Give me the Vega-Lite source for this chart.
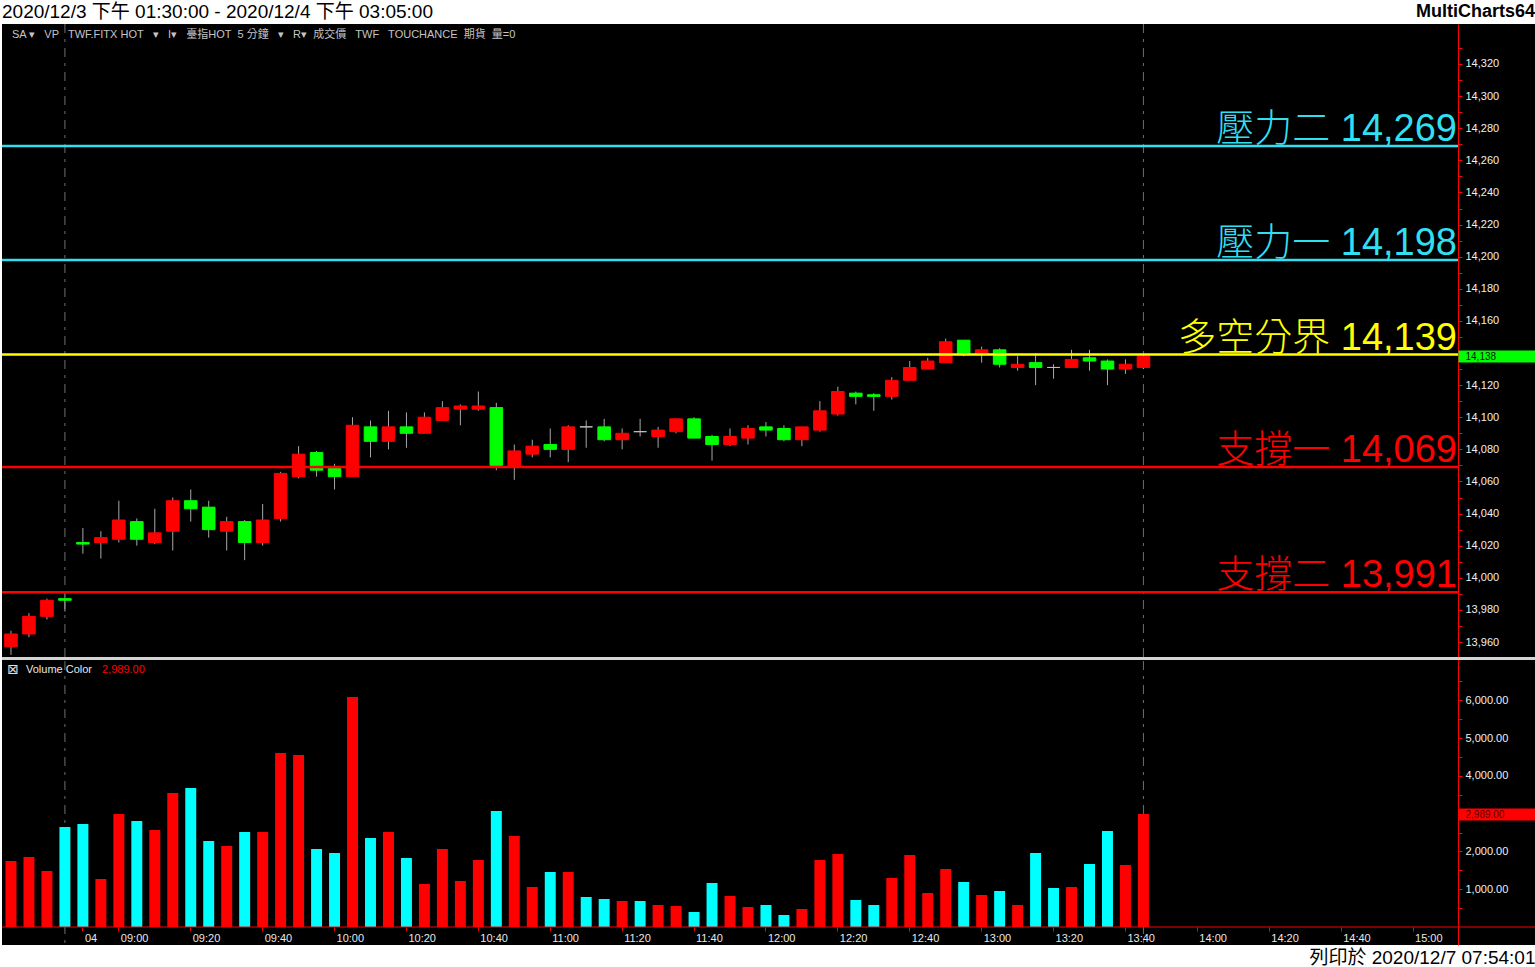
{
  "$schema": "https://vega.github.io/schema/vega-lite/v6.json",
  "padding": 0,
  "background": "#ffffff",
  "spacing": 0,
  "bounds": "flush",
  "config": {"view": {"stroke": null}},
  "datasets": {
    "bars": [
      {"t": "12/03 13:35", "o": 13957, "h": 13967, "l": 13952, "c": 13965, "v": 1746},
      {"t": "12/03 13:40", "o": 13965, "h": 13978, "l": 13963, "c": 13976, "v": 1852},
      {"t": "12/03 13:45", "o": 13976, "h": 13987, "l": 13974, "c": 13986, "v": 1481},
      {"t": "12/04 08:45", "o": 13987, "h": 13990, "l": 13979, "c": 13986, "v": 2646},
      {"t": "12/04 08:50", "o": 14022, "h": 14031, "l": 14015, "c": 14021, "v": 2725},
      {"t": "12/04 08:55", "o": 14022, "h": 14029, "l": 14012, "c": 14025, "v": 1270},
      {"t": "12/04 09:00", "o": 14024, "h": 14048, "l": 14022, "c": 14036, "v": 2990},
      {"t": "12/04 09:05", "o": 14035, "h": 14037, "l": 14020, "c": 14024, "v": 2804},
      {"t": "12/04 09:10", "o": 14022, "h": 14043, "l": 14021, "c": 14028, "v": 2566},
      {"t": "12/04 09:15", "o": 14029, "h": 14050, "l": 14017, "c": 14048, "v": 3545},
      {"t": "12/04 09:20", "o": 14048, "h": 14055, "l": 14035, "c": 14043, "v": 3677},
      {"t": "12/04 09:25", "o": 14044, "h": 14048, "l": 14025, "c": 14030, "v": 2275},
      {"t": "12/04 09:30", "o": 14029, "h": 14038, "l": 14017, "c": 14035, "v": 2143},
      {"t": "12/04 09:35", "o": 14035, "h": 14036, "l": 14011, "c": 14022, "v": 2513},
      {"t": "12/04 09:40", "o": 14022, "h": 14046, "l": 14020, "c": 14036, "v": 2513},
      {"t": "12/04 09:45", "o": 14037, "h": 14066, "l": 14035, "c": 14065, "v": 4603},
      {"t": "12/04 09:50", "o": 14063, "h": 14082, "l": 14062, "c": 14077, "v": 4550},
      {"t": "12/04 09:55", "o": 14078, "h": 14079, "l": 14063, "c": 14067, "v": 2063},
      {"t": "12/04 10:00", "o": 14068, "h": 14071, "l": 14055, "c": 14063, "v": 1958},
      {"t": "12/04 10:05", "o": 14063, "h": 14100, "l": 14063, "c": 14095, "v": 6085},
      {"t": "12/04 10:10", "o": 14094, "h": 14098, "l": 14075, "c": 14085, "v": 2354},
      {"t": "12/04 10:15", "o": 14085, "h": 14104, "l": 14080, "c": 14094, "v": 2513},
      {"t": "12/04 10:20", "o": 14094, "h": 14103, "l": 14081, "c": 14090, "v": 1825},
      {"t": "12/04 10:25", "o": 14090, "h": 14103, "l": 14090, "c": 14100, "v": 1138},
      {"t": "12/04 10:30", "o": 14098, "h": 14110, "l": 14098, "c": 14106, "v": 2063},
      {"t": "12/04 10:35", "o": 14105, "h": 14108, "l": 14095, "c": 14107, "v": 1217},
      {"t": "12/04 10:40", "o": 14105, "h": 14116, "l": 14104, "c": 14107, "v": 1772},
      {"t": "12/04 10:45", "o": 14106, "h": 14109, "l": 14067, "c": 14070, "v": 3069},
      {"t": "12/04 10:50", "o": 14069, "h": 14083, "l": 14061, "c": 14079, "v": 2407},
      {"t": "12/04 10:55", "o": 14077, "h": 14086, "l": 14075, "c": 14082, "v": 1058},
      {"t": "12/04 11:00", "o": 14083, "h": 14093, "l": 14075, "c": 14080, "v": 1455},
      {"t": "12/04 11:05", "o": 14080, "h": 14095, "l": 14072, "c": 14094, "v": 1455},
      {"t": "12/04 11:10", "o": 14094, "h": 14098, "l": 14081, "c": 14094, "v": 794},
      {"t": "12/04 11:15", "o": 14094, "h": 14099, "l": 14085, "c": 14086, "v": 741},
      {"t": "12/04 11:20", "o": 14086, "h": 14093, "l": 14080, "c": 14090, "v": 688},
      {"t": "12/04 11:25", "o": 14091, "h": 14099, "l": 14088, "c": 14091, "v": 688},
      {"t": "12/04 11:30", "o": 14088, "h": 14094, "l": 14081, "c": 14092, "v": 582},
      {"t": "12/04 11:35", "o": 14091, "h": 14099, "l": 14090, "c": 14099, "v": 556},
      {"t": "12/04 11:40", "o": 14099, "h": 14100, "l": 14087, "c": 14087, "v": 397},
      {"t": "12/04 11:45", "o": 14088, "h": 14089, "l": 14073, "c": 14083, "v": 1164},
      {"t": "12/04 11:50", "o": 14083, "h": 14093, "l": 14082, "c": 14088, "v": 820},
      {"t": "12/04 11:55", "o": 14087, "h": 14095, "l": 14083, "c": 14093, "v": 529},
      {"t": "12/04 12:00", "o": 14094, "h": 14097, "l": 14088, "c": 14092, "v": 582},
      {"t": "12/04 12:05", "o": 14093, "h": 14095, "l": 14085, "c": 14086, "v": 317},
      {"t": "12/04 12:10", "o": 14086, "h": 14094, "l": 14082, "c": 14094, "v": 476},
      {"t": "12/04 12:15", "o": 14092, "h": 14110, "l": 14091, "c": 14104, "v": 1772},
      {"t": "12/04 12:20", "o": 14102, "h": 14119, "l": 14101, "c": 14116, "v": 1931},
      {"t": "12/04 12:25", "o": 14115, "h": 14116, "l": 14108, "c": 14113, "v": 714},
      {"t": "12/04 12:30", "o": 14114, "h": 14115, "l": 14104, "c": 14113, "v": 582},
      {"t": "12/04 12:35", "o": 14113, "h": 14125, "l": 14111, "c": 14123, "v": 1296},
      {"t": "12/04 12:40", "o": 14123, "h": 14135, "l": 14123, "c": 14131, "v": 1905},
      {"t": "12/04 12:45", "o": 14130, "h": 14137, "l": 14130, "c": 14135, "v": 899},
      {"t": "12/04 12:50", "o": 14134, "h": 14149, "l": 14134, "c": 14147, "v": 1534},
      {"t": "12/04 12:55", "o": 14148, "h": 14148, "l": 14138, "c": 14139, "v": 1190},
      {"t": "12/04 13:00", "o": 14139, "h": 14144, "l": 14134, "c": 14142, "v": 847},
      {"t": "12/04 13:05", "o": 14142, "h": 14143, "l": 14131, "c": 14133, "v": 952},
      {"t": "12/04 13:10", "o": 14131, "h": 14138, "l": 14129, "c": 14133, "v": 582},
      {"t": "12/04 13:15", "o": 14134, "h": 14140, "l": 14120, "c": 14131, "v": 1958},
      {"t": "12/04 13:20", "o": 14131, "h": 14133, "l": 14124, "c": 14131, "v": 1032},
      {"t": "12/04 13:25", "o": 14131, "h": 14142, "l": 14131, "c": 14136, "v": 1058},
      {"t": "12/04 13:30", "o": 14137, "h": 14142, "l": 14129, "c": 14135, "v": 1667},
      {"t": "12/04 13:35", "o": 14135, "h": 14136, "l": 14120, "c": 14130, "v": 2540},
      {"t": "12/04 13:40", "o": 14130, "h": 14136, "l": 14127, "c": 14133, "v": 1640},
      {"t": "12/04 13:45", "o": 14131, "h": 14139, "l": 14130, "c": 14138, "v": 2989}
    ],
    "levels": [
      {"name": "壓力二", "value": 14269},
      {"name": "壓力一", "value": 14198},
      {"name": "多空分界", "value": 14139},
      {"name": "支撐一", "value": 14069},
      {"name": "支撐二", "value": 13991}
    ],
    "sessions": [
      {"t": "12/04 08:45"},
      {"t": "12/04 13:45"}
    ]
  },
  "vconcat": [
    {
      "width": 1535,
      "height": 24,
      "data": {"values": [{}]},
      "layer": [
        {
          "mark": {"type": "text", "align": "left", "baseline": "middle", "font": "Liberation Sans, Noto Sans CJK TC", "fontSize": 19, "color": "#000000"},
          "encoding": {
            "x": {"datum": 0, "type": "quantitative", "scale": {"domain": [0, 1]}, "axis": null},
            "y": {"datum": 0.5, "type": "quantitative", "scale": {"domain": [0, 1]}, "axis": null},
            "text": {"value": "2020/12/3 下午 01:30:00 - 2020/12/4 下午 03:05:00"}
          }
        },
        {
          "mark": {"type": "text", "align": "right", "baseline": "middle", "dx": -2, "font": "Liberation Sans", "fontSize": 18, "fontWeight": "bold", "color": "#000000"},
          "encoding": {
            "x": {"datum": 1, "type": "quantitative", "axis": null},
            "y": {"datum": 0.5, "type": "quantitative", "axis": null},
            "text": {"value": "MultiCharts64"}
          }
        }
      ]
    },
    {
      "width": 1535,
      "height": 637,
      "view": {"fill": "#000000", "stroke": null},
      "resolve": {"axis": {"x": "independent", "y": "independent"}},
      "layer": [
        {
          "data": {"name": "sessions"},
          "mark": {"type": "rule", "color": "#6e6e6e", "strokeWidth": 1, "strokeDash": [9, 6, 3, 6]},
          "encoding": {
            "x": {"field": "t", "type": "ordinal", "axis": null,
              "scale": {"range": [0, 1456], "paddingInner": 0, "paddingOuter": 0,
                "domain": ["12/03 13:35","12/03 13:40","12/03 13:45","12/04 08:45","12/04 08:50","12/04 08:55","12/04 09:00","12/04 09:05","12/04 09:10","12/04 09:15","12/04 09:20","12/04 09:25","12/04 09:30","12/04 09:35","12/04 09:40","12/04 09:45","12/04 09:50","12/04 09:55","12/04 10:00","12/04 10:05","12/04 10:10","12/04 10:15","12/04 10:20","12/04 10:25","12/04 10:30","12/04 10:35","12/04 10:40","12/04 10:45","12/04 10:50","12/04 10:55","12/04 11:00","12/04 11:05","12/04 11:10","12/04 11:15","12/04 11:20","12/04 11:25","12/04 11:30","12/04 11:35","12/04 11:40","12/04 11:45","12/04 11:50","12/04 11:55","12/04 12:00","12/04 12:05","12/04 12:10","12/04 12:15","12/04 12:20","12/04 12:25","12/04 12:30","12/04 12:35","12/04 12:40","12/04 12:45","12/04 12:50","12/04 12:55","12/04 13:00","12/04 13:05","12/04 13:10","12/04 13:15","12/04 13:20","12/04 13:25","12/04 13:30","12/04 13:35","12/04 13:40","12/04 13:45","12/04 13:50","12/04 13:55","12/04 14:00","12/04 14:05","12/04 14:10","12/04 14:15","12/04 14:20","12/04 14:25","12/04 14:30","12/04 14:35","12/04 14:40","12/04 14:45","12/04 14:50","12/04 14:55","12/04 15:00","12/04 15:05","12/04 15:10"]}}
          }
        },
        {
          "data": {"name": "bars"},
          "mark": {"type": "rule", "color": "#a8a8a8", "strokeWidth": 1},
          "encoding": {
            "x": {"field": "t", "type": "ordinal", "axis": null},
            "y": {"field": "l", "type": "quantitative",
              "scale": {"domain": [13948.18, 14344.91], "nice": false, "zero": false},
              "axis": {"orient": "right", "offset": -79, "title": null, "grid": false,
                "values": [13960,13970,13980,13990,14000,14010,14020,14030,14040,14050,14060,14070,14080,14090,14100,14110,14120,14130,14140,14150,14160,14170,14180,14190,14200,14210,14220,14230,14240,14250,14260,14270,14280,14290,14300,14310,14320,14330],
                "labelExpr": "datum.value % 20 == 0 && datum.value != 14140 ? format(datum.value, ',') : ''",
                "domainColor": "#ff0000", "domainWidth": 1, "tickColor": "#ff0000", "tickSize": 4,
                "labelColor": "#f0f0f0", "labelFont": "Liberation Sans", "labelFontSize": 11, "labelPadding": 3,
                "labelOverlap": false, "labelFlush": false}},
            "y2": {"field": "h"}
          }
        },
        {
          "data": {"name": "bars"},
          "mark": {"type": "bar", "width": {"band": 0.7}, "strokeWidth": 1},
          "encoding": {
            "x": {"field": "t", "type": "ordinal", "axis": null},
            "y": {"field": "o", "type": "quantitative", "axis": null},
            "y2": {"field": "c"},
            "fill": {"condition": [{"test": "datum.c > datum.o", "value": "#ff0000"}, {"test": "datum.c < datum.o", "value": "#00ff00"}], "value": "#c0c0c0"},
            "stroke": {"condition": [{"test": "datum.c > datum.o", "value": "#ff0000"}, {"test": "datum.c < datum.o", "value": "#00ff00"}], "value": "#c0c0c0"}
          }
        },
        {
          "data": {"name": "levels"},
          "mark": {"type": "rule", "strokeWidth": 2.5},
          "encoding": {
            "x": {"datum": "12/03 13:35", "type": "ordinal", "bandPosition": 0, "axis": null},
            "x2": {"datum": "12/04 15:10", "bandPosition": 1},
            "y": {"field": "value", "type": "quantitative", "axis": null},
            "color": {"field": "name", "type": "nominal", "legend": null,
              "scale": {"domain": ["壓力二", "壓力一", "多空分界", "支撐一", "支撐二"], "range": ["#30dff0", "#30dff0", "#ffff00", "#ff0000", "#ff0000"]}}
          }
        },
        {
          "data": {"name": "levels"},
          "transform": [{"calculate": "datum.name + ' ' + format(datum.value, ',')", "as": "label"}],
          "mark": {"type": "text", "align": "right", "baseline": "alphabetic", "dy": -5, "dx": -1, "fontSize": 38, "fontWeight": 300, "font": "Liberation Sans, Noto Sans CJK TC"},
          "encoding": {
            "x": {"datum": "12/04 15:10", "type": "ordinal", "bandPosition": 1, "axis": null},
            "y": {"field": "value", "type": "quantitative", "axis": null},
            "text": {"field": "label"},
            "color": {"field": "name", "type": "nominal", "legend": null}
          }
        },
        {
          "data": {"values": [{}]},
          "mark": {"type": "text", "align": "left", "baseline": "middle", "dx": 10, "fontSize": 11, "font": "Liberation Sans, Noto Sans CJK TC", "color": "#c4c4c4"},
          "encoding": {
            "x": {"datum": "12/03 13:35", "type": "ordinal", "bandPosition": 0, "axis": null},
            "y": {"datum": 14338, "type": "quantitative", "axis": null},
            "text": {"value": "SA ▾\u00a0\u00a0 VP\u00a0\u00a0 TWF.FITX HOT\u00a0\u00a0 ▾\u00a0\u00a0 I▾\u00a0\u00a0 臺指HOT\u00a0 5 分鐘\u00a0\u00a0 ▾\u00a0\u00a0 R▾\u00a0 成交價\u00a0\u00a0 TWF\u00a0\u00a0 TOUCHANCE\u00a0 期貨\u00a0 量=0"}
          }
        },
        {
          "data": {"values": [{}]},
          "mark": {"type": "rule", "color": "#d4d4d4", "strokeWidth": 3},
          "encoding": {
            "y": {"datum": 13949.7, "type": "quantitative",
              "axis": {"orient": "right", "offset": -79, "title": null, "grid": false, "domain": false, "zindex": 1,
                "values": [14138], "labelExpr": "format(datum.value, ',')",
                "tickColor": "#00ff00", "tickSize": 77, "tickWidth": 12,
                "labelColor": "#0a0a0a", "labelFont": "Liberation Sans", "labelFontSize": 10, "labelPadding": -70}}
          }
        }
      ]
    },
    {
      "width": 1535,
      "height": 284,
      "view": {"fill": "#000000", "stroke": null},
      "resolve": {"axis": {"x": "independent", "y": "independent"}},
      "layer": [
        {
          "data": {"name": "sessions"},
          "mark": {"type": "rule", "color": "#6e6e6e", "strokeWidth": 1, "strokeDash": [9, 6, 3, 6]},
          "encoding": {
            "x": {"field": "t", "type": "ordinal", "axis": null,
              "scale": {"range": [0, 1456], "paddingInner": 0, "paddingOuter": 0,
                "domain": ["12/03 13:35","12/03 13:40","12/03 13:45","12/04 08:45","12/04 08:50","12/04 08:55","12/04 09:00","12/04 09:05","12/04 09:10","12/04 09:15","12/04 09:20","12/04 09:25","12/04 09:30","12/04 09:35","12/04 09:40","12/04 09:45","12/04 09:50","12/04 09:55","12/04 10:00","12/04 10:05","12/04 10:10","12/04 10:15","12/04 10:20","12/04 10:25","12/04 10:30","12/04 10:35","12/04 10:40","12/04 10:45","12/04 10:50","12/04 10:55","12/04 11:00","12/04 11:05","12/04 11:10","12/04 11:15","12/04 11:20","12/04 11:25","12/04 11:30","12/04 11:35","12/04 11:40","12/04 11:45","12/04 11:50","12/04 11:55","12/04 12:00","12/04 12:05","12/04 12:10","12/04 12:15","12/04 12:20","12/04 12:25","12/04 12:30","12/04 12:35","12/04 12:40","12/04 12:45","12/04 12:50","12/04 12:55","12/04 13:00","12/04 13:05","12/04 13:10","12/04 13:15","12/04 13:20","12/04 13:25","12/04 13:30","12/04 13:35","12/04 13:40","12/04 13:45","12/04 13:50","12/04 13:55","12/04 14:00","12/04 14:05","12/04 14:10","12/04 14:15","12/04 14:20","12/04 14:25","12/04 14:30","12/04 14:35","12/04 14:40","12/04 14:45","12/04 14:50","12/04 14:55","12/04 15:00","12/04 15:05","12/04 15:10"]}}
          }
        },
        {
          "data": {"name": "bars"},
          "mark": {"type": "bar", "width": {"band": 0.61}},
          "encoding": {
            "x": {"field": "t", "type": "ordinal",
              "axis": {"orient": "bottom", "offset": -18, "domain": false, "grid": false,
                "values": ["12/04 08:50","12/04 09:00","12/04 09:20","12/04 09:40","12/04 10:00","12/04 10:20","12/04 10:40","12/04 11:00","12/04 11:20","12/04 11:40","12/04 12:00","12/04 12:20","12/04 12:40","12/04 13:00","12/04 13:20","12/04 13:40","12/04 14:00","12/04 14:20","12/04 14:40","12/04 15:00"],
                "labelExpr": "datum.value == '12/04 08:50' ? '04' : slice(datum.value, 6)",
                "tickColor": "#ff0000", "tickSize": 4,
                "labelColor": "#e8e8e8", "labelFont": "Liberation Sans", "labelFontSize": 11, "labelAngle": 0,
                "labelAlign": "left", "labelBaseline": "top", "labelPadding": 1, "labelOffset": 2,
                "labelOverlap": false, "labelFlush": false,
                "title": "列印於 2020/12/7 07:54:01", "titleColor": "#000000", "titleFont": "Liberation Sans, Noto Sans CJK TC",
                "titleFontSize": 19, "titleFontWeight": "normal", "titleX": 1533, "titleY": 30,
                "titleAlign": "right", "titleBaseline": "middle"}},
            "y": {"field": "v", "type": "quantitative",
              "scale": {"domain": [-476, 7037], "nice": false, "zero": false},
              "axis": {"orient": "right", "offset": -79, "title": null, "grid": false,
                "values": [500,1000,1500,2000,2500,3000,3500,4000,4500,5000,5500,6000,6500],
                "labelExpr": "datum.value % 1000 == 0 && datum.value != 3000 ? format(datum.value, ',.2f') : ''",
                "domainColor": "#ff0000", "domainWidth": 1, "tickColor": "#ff0000", "tickSize": 4,
                "labelColor": "#f0f0f0", "labelFont": "Liberation Sans", "labelFontSize": 11, "labelPadding": 3,
                "labelOverlap": false, "labelFlush": false}},
            "y2": {"datum": 0},
            "color": {"condition": {"test": "datum.c > datum.o", "value": "#ff0000"}, "value": "#00ffff"}
          }
        },
        {
          "data": {"values": [{}]},
          "mark": {"type": "rule", "color": "#ff0000", "strokeWidth": 1},
          "encoding": {
            "y": {"datum": 0, "type": "quantitative",
              "axis": {"orient": "right", "offset": -79, "title": null, "grid": false, "domain": false, "zindex": 1,
                "values": [2989], "labelExpr": "format(datum.value, ',.2f')",
                "tickColor": "#ff0000", "tickSize": 77, "tickWidth": 12,
                "labelColor": "#5a0000", "labelFont": "Liberation Sans", "labelFontSize": 10, "labelPadding": -70}}
          }
        },
        {
          "data": {"values": [{}]},
          "mark": {"type": "text", "align": "center", "baseline": "middle", "dx": 11, "fontSize": 14, "font": "DejaVu Sans", "color": "#e0e0e0"},
          "encoding": {
            "x": {"datum": "12/03 13:35", "type": "ordinal", "bandPosition": 0, "axis": null},
            "y": {"datum": 6799, "type": "quantitative", "axis": null},
            "text": {"value": "⊠"}
          }
        },
        {
          "data": {"values": [{}]},
          "mark": {"type": "text", "align": "left", "baseline": "middle", "dx": 24, "fontSize": 11, "font": "Liberation Sans", "color": "#e8e8e8"},
          "encoding": {
            "x": {"datum": "12/03 13:35", "type": "ordinal", "bandPosition": 0, "axis": null},
            "y": {"datum": 6799, "type": "quantitative", "axis": null},
            "text": {"value": "Volume Color"}
          }
        },
        {
          "data": {"values": [{}]},
          "mark": {"type": "text", "align": "left", "baseline": "middle", "dx": 100, "fontSize": 11, "font": "Liberation Sans", "color": "#ff0000"},
          "encoding": {
            "x": {"datum": "12/03 13:35", "type": "ordinal", "bandPosition": 0, "axis": null},
            "y": {"datum": 6799, "type": "quantitative", "axis": null},
            "text": {"value": "2,989.00"}
          }
        }
      ]
    }
  ]
}
